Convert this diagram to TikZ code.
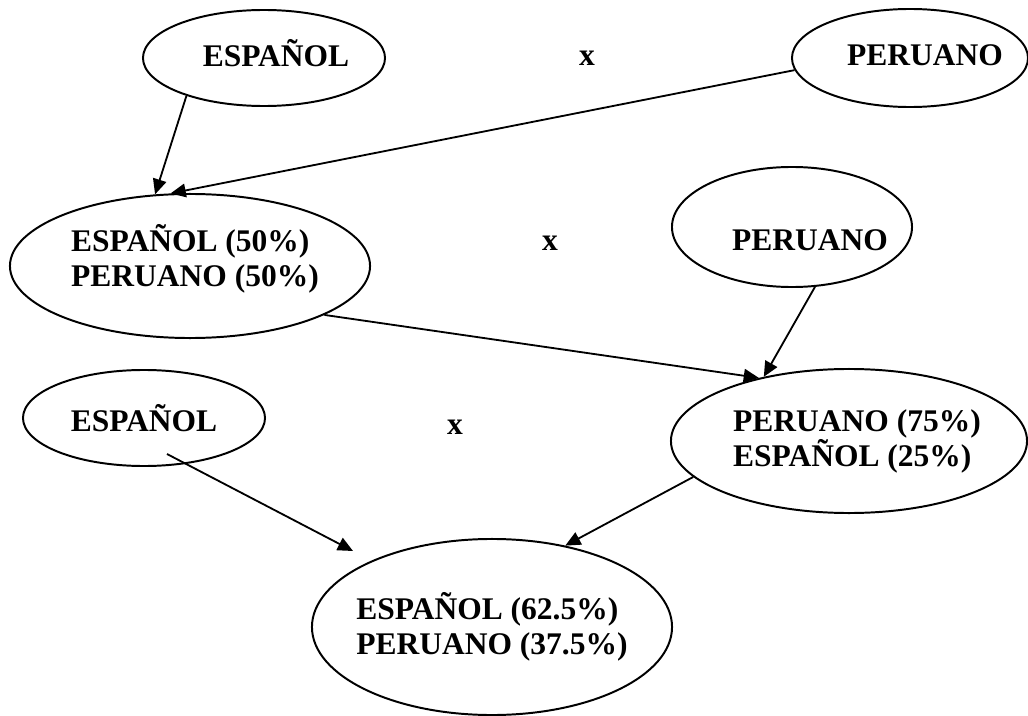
\documentclass[tikz,border=0pt]{standalone}
\usepackage{fontspec}
\setmainfont{Liberation Serif}
\usetikzlibrary{arrows.meta,shapes.geometric}

\begin{document}
\begin{tikzpicture}[x=0.025cm, y=-0.025cm,
    font=\bfseries\fontsize{22.4}{24.9}\selectfont,
    cruce/.style={ellipse, draw, line width=1.4pt, inner sep=0pt},
    texto/.style={align=left, inner sep=0pt},
    flecha/.style={-{Triangle[length=0.38cm, width=0.34cm]}, line width=1.3pt}]
    \useasboundingbox (0,0) rectangle (1028,716);

    % primera cruza
    \node[cruce, minimum width=6.05cm, minimum height=2.4cm,
        label={[texto, xshift=0.3cm, yshift=0.12cm]center:ESPAÑOL}] (espA) at (264,58) {};
    \node[cruce, minimum width=5.9cm, minimum height=2.45cm,
        label={[texto, xshift=0.375cm, yshift=0.075cm]center:PERUANO}] (perA) at (910,58) {};
    \node (xA) at (587,58) {x};

    % segunda cruza
    \node[cruce, minimum width=9cm, minimum height=3.6cm,
        label={[texto, xshift=0.125cm, yshift=0.175cm]center:ESPAÑOL (50\%)\\PERUANO (50\%)}] (mixA) at (190,266) {};
    \node[cruce, minimum width=6cm, minimum height=3cm,
        label={[texto, xshift=0.45cm, yshift=-0.325cm]center:PERUANO}] (perB) at (792,227) {};
    \node (xB) at (550,243) {x};

    % tercera cruza
    \node[cruce, minimum width=6.05cm, minimum height=2.4cm,
        label={[texto, yshift=0cm]center:ESPAÑOL}] (espB) at (144,418) {};
    \node[cruce, minimum width=8.9cm, minimum height=3.6cm,
        label={[texto, xshift=0.2cm]center:PERUANO (75\%)\\ESPAÑOL (25\%)}] (mixB) at (849,441) {};
    \node (xC) at (455,427) {x};

    % resultado
    \node[cruce, minimum width=9cm, minimum height=4.4cm,
        label={[texto]center:ESPAÑOL (62.5\%)\\PERUANO (37.5\%)}] (mixC) at (492,627) {};

    \draw[flecha] (espA.206) -- (mixA.116);
    \draw[flecha] (perA.186) -- (mixA.105);
    \draw[flecha] (mixA.340) -- (mixB.145);
    \draw[flecha] (perB.291) -- (mixB.143);
    \draw[flecha] ([shift={(23,36)}]espB.center) -- ([shift={(-139,-76)}]mixC.center);
    \draw[flecha] (mixB.193) -- (mixC.48);
\end{tikzpicture}
\end{document}
